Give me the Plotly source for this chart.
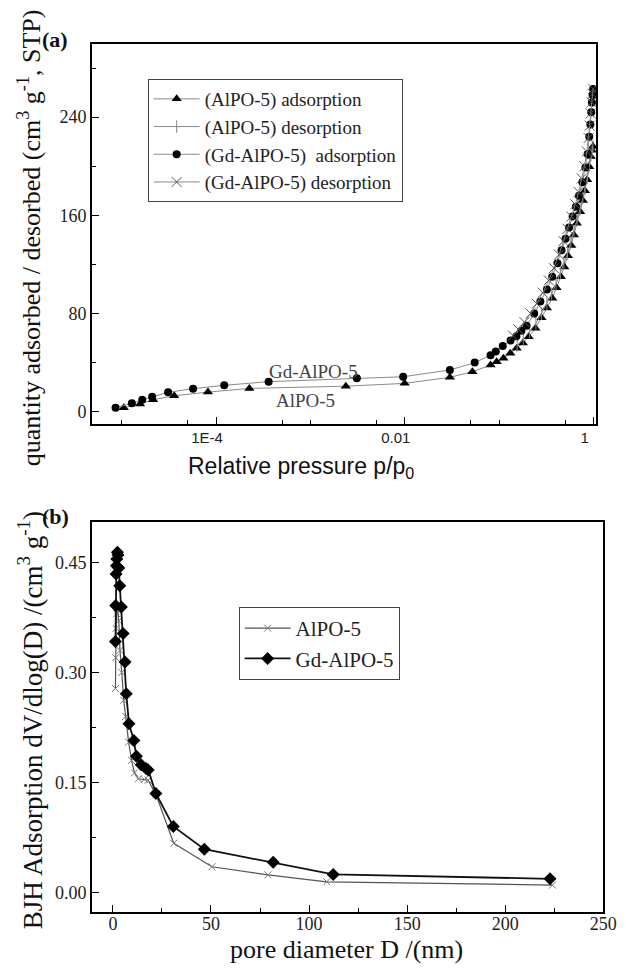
import plotly.graph_objects as go

# ---------------- data: panel (a) nitrogen isotherms ----------------
alpo_ads_p = [1.05e-5, 1.56e-5, 2.15e-5, 3.6e-5, 8.2e-5, 2.25e-4, 2.37e-3, 9.95e-3,
              0.030, 0.052, 0.081, 0.094, 0.111, 0.131, 0.153, 0.178, 0.205, 0.242,
              0.28, 0.32, 0.365, 0.405, 0.45, 0.49, 0.535, 0.58, 0.62, 0.665, 0.72,
              0.77, 0.81, 0.855, 0.90, 0.935, 0.96, 0.985]
alpo_ads_v = [3.3, 6.3, 9.8, 13.0, 16.0, 19.0, 20.8, 23.1,
              28.0, 32.6, 38.0, 40.8, 43.5, 47.6, 51.7, 56.0, 61.0, 68.0,
              76.5, 84.5, 92.5, 101.0, 110.0, 118.0, 127.0, 135.5, 144.0, 153.5, 163.0,
              172.0, 180.0, 189.0, 199.5, 208.0, 213.0, 216.0]

alpo_des_p = [0.985, 0.965, 0.94, 0.905, 0.86, 0.815, 0.77, 0.72, 0.67, 0.62, 0.575,
              0.53, 0.485, 0.445, 0.40, 0.36, 0.32, 0.28, 0.245, 0.21, 0.18, 0.155]
alpo_des_v = [216, 213, 209, 201, 191, 182, 174, 165, 156, 147, 138,
              129, 121, 113, 104, 96, 88, 80, 72, 65, 59, 54]

gd_ads_p = [8.6e-6, 1.28e-5, 1.65e-5, 2.1e-5, 3.1e-5, 5.7e-5, 1.22e-4, 3.6e-4, 3.1e-3,
            9.6e-3, 0.030, 0.055, 0.081, 0.092, 0.109, 0.132, 0.152, 0.172, 0.195,
            0.235, 0.273, 0.32, 0.365, 0.414, 0.458, 0.505, 0.55, 0.60, 0.65, 0.70,
            0.76, 0.82, 0.865, 0.90, 0.925, 0.945, 0.96, 0.975, 0.99]
gd_ads_v = [3.3, 6.8, 9.8, 12.2, 15.8, 18.8, 21.5, 24.5, 27.2,
            28.5, 34.0, 40.0, 46.0, 49.0, 53.5, 58.0, 61.5, 66.0, 70.0,
            80.0, 89.7, 99.5, 110.0, 121.0, 131.5, 141.0, 150.0, 159.0, 167.0, 176.0,
            187.0, 199.0, 210.0, 224.0, 234.0, 244.0, 252.0, 258.0, 263.0]

gd_des_p = [0.99, 0.975, 0.955, 0.935, 0.91, 0.885, 0.85, 0.80, 0.75, 0.695, 0.64,
            0.585, 0.53, 0.48, 0.43, 0.38, 0.335, 0.29, 0.25, 0.215, 0.185, 0.16, 0.14]
gd_des_v = [263, 259, 252, 243, 233, 223, 212, 200, 190, 179, 169,
            159, 149, 139, 128, 117, 107, 97, 88, 80, 73, 67, 62]

# ---------------- data: panel (b) BJH pore size distribution ----------------
alpo_D = [1.3, 1.4, 1.6, 2.0, 2.5, 3.0, 3.6, 4.5, 5.5, 6.5, 8.0, 9.5, 11.0, 13.0,
          16.0, 18.0, 22.0, 31.0, 50.5, 79.0, 109.0, 224.0]
alpo_V = [0.278, 0.32, 0.36, 0.38, 0.385, 0.37, 0.33, 0.30, 0.262, 0.24, 0.205, 0.18,
          0.163, 0.155, 0.154, 0.153, 0.133, 0.067, 0.035, 0.024, 0.0145, 0.010]

gd_D = [1.3, 1.4, 1.6, 1.8, 2.0, 2.3, 2.6, 3.0, 3.5, 4.3, 5.2, 6.2, 6.8, 8.2, 10.7,
        12.0, 14.4, 16.9, 18.0, 21.9, 30.8, 46.6, 81.7, 112.3, 222.8]
gd_V = [0.342, 0.391, 0.434, 0.4455, 0.4546, 0.4636, 0.46, 0.4423, 0.418, 0.389, 0.353,
        0.314, 0.271, 0.230, 0.207, 0.1855, 0.174, 0.169, 0.167, 0.135, 0.090, 0.059,
        0.041, 0.0245, 0.0186]

# tick definitions
a_major_vals = [1e-4, 1e-2, 1]
a_major_text = ["1E-4", "0.01", "1"]
a_minor_vals = [1e-5, 5e-5, 5e-4, 1e-3, 5e-3, 5e-2, 0.1, 0.5]

SERIF = "Liberation Serif"
SANS = "Liberation Sans"
W, H = 632, 969

fig = go.Figure()
grey = "#8a8a8a"

# panel (a) traces
fig.add_trace(go.Scatter(x=alpo_ads_p, y=alpo_ads_v, mode="lines+markers",
                         name="(AlPO-5) adsorption", legend="legend",
                         line=dict(color=grey, width=1),
                         marker=dict(symbol="triangle-up", size=9, color="black"),
                         xaxis="x", yaxis="y"))
fig.add_trace(go.Scatter(x=alpo_des_p, y=alpo_des_v, mode="lines+markers",
                         name="(AlPO-5) desorption", legend="legend",
                         line=dict(color=grey, width=1),
                         marker=dict(symbol="line-ns", size=9, color=grey,
                                     line=dict(color=grey, width=1)),
                         xaxis="x", yaxis="y"))
fig.add_trace(go.Scatter(x=gd_ads_p, y=gd_ads_v, mode="lines+markers",
                         name="(Gd-AlPO-5)  adsorption", legend="legend",
                         line=dict(color=grey, width=1),
                         marker=dict(symbol="circle", size=8, color="black"),
                         xaxis="x", yaxis="y"))
fig.add_trace(go.Scatter(x=gd_des_p, y=gd_des_v, mode="lines+markers",
                         name="(Gd-AlPO-5) desorption", legend="legend",
                         line=dict(color=grey, width=1),
                         marker=dict(symbol="x-thin", size=10, color="#555",
                                     line=dict(color="#555", width=1)),
                         xaxis="x", yaxis="y"))

# panel (b) traces
fig.add_trace(go.Scatter(x=alpo_D, y=alpo_V, mode="lines+markers", name="AlPO-5",
                         legend="legend2",
                         line=dict(color="#555", width=1.2),
                         marker=dict(symbol="x-thin", size=7, color="#777",
                                     line=dict(color="#777", width=1)),
                         xaxis="x2", yaxis="y2"))
fig.add_trace(go.Scatter(x=gd_D, y=gd_V, mode="lines+markers", name="Gd-AlPO-5",
                         legend="legend2",
                         line=dict(color="#111", width=1.8),
                         marker=dict(symbol="diamond", size=10, color="black"),
                         xaxis="x2", yaxis="y2"))

def px_x(p):
    return p / W

def px_y(p):
    return 1 - p / H

axis_common = dict(showline=True, linecolor="black", linewidth=1.8, mirror=True,
                   ticks="inside", tickcolor="black", tickwidth=1.2, ticklen=7,
                   showgrid=False, zeroline=False)

fig.update_layout(
    width=W, height=H,
    margin=dict(l=0, r=0, t=0, b=0),
    paper_bgcolor="white", plot_bgcolor="white",
    showlegend=True,
    xaxis=dict(**axis_common, type="log", domain=[px_x(94), px_x(610)],
               range=[-5.316, 0.031], anchor="y",
               tickmode="array", tickvals=a_major_vals, ticktext=a_major_text,
               tickfont=dict(family=SANS, size=15, color="#222"),
               ticklabelshift=-9,
               minor=dict(tickmode="array", tickvals=a_minor_vals, ticks="inside",
                          ticklen=4, tickcolor="black", tickwidth=1)),
    yaxis=dict(**axis_common, domain=[px_y(423.5), px_y(43.5)], range=[-9.6, 300],
               anchor="x", tickmode="linear", tick0=0, dtick=80,
               tickfont=dict(family=SERIF, size=18, color="#222"),
               minor=dict(tickmode="linear", tick0=0, dtick=40, ticks="inside",
                          ticklen=4, tickcolor="black", tickwidth=1)),
    xaxis2=dict(**axis_common, domain=[px_x(94), px_x(617)], range=[-10.7, 250],
                anchor="y2", tickmode="linear", tick0=0, dtick=50,
                tickfont=dict(family=SERIF, size=18, color="#222"),
                ticklabelstandoff=-5,
                minor=dict(tickmode="linear", tick0=0, dtick=25, ticks="inside",
                           ticklen=4, tickcolor="black", tickwidth=1)),
    yaxis2=dict(**axis_common, domain=[px_y(911.5), px_y(522)], range=[-0.026, 0.505],
                anchor="x2", tickmode="linear", tick0=0, dtick=0.15, tickformat=".2f",
                tickfont=dict(family=SERIF, size=18, color="#222"),
                minor=dict(tickmode="linear", tick0=0, dtick=0.075, ticks="inside",
                           ticklen=4, tickcolor="black", tickwidth=1)),
    legend=dict(x=px_x(151), y=px_y(79), xanchor="left", yanchor="top",
                bgcolor="white", bordercolor="#444", borderwidth=1,
                font=dict(family=SERIF, size=19, color="#222"),
                itemwidth=46, tracegroupgap=0),
    legend2=dict(x=px_x(244), y=px_y(607), xanchor="left", yanchor="top",
                 bgcolor="white", bordercolor="#444", borderwidth=1,
                 font=dict(family=SERIF, size=21, color="#222"),
                 itemwidth=46, tracegroupgap=0),
)

annotations = [
    dict(text="<b>(a)</b>", x=px_x(56), y=px_y(40), font=dict(family=SERIF, size=22, color="#111")),
    dict(text="<b>(b)</b>", x=px_x(57), y=px_y(516), font=dict(family=SERIF, size=22, color="#111")),
    dict(text="Gd-AlPO-5", x=px_x(321), y=px_y(371), font=dict(family=SERIF, size=19, color="#444")),
    dict(text="AlPO-5", x=px_x(312), y=px_y(401), font=dict(family=SERIF, size=19, color="#444")),
    dict(text="quantity adsorbed / desorbed (cm<sup>3</sup> g<sup>-1</sup>, STP)",
         x=px_x(30), y=px_y(238), textangle=-90,
         font=dict(family=SERIF, size=26, color="#111")),
    dict(text="Relative pressure p/p<sub>0</sub>", x=px_x(308), y=px_y(467),
         font=dict(family=SANS, size=23, color="#111")),
    dict(text="BJH Adsorption dV/dlog(D) /(cm<sup>3</sup> g<sup>-1</sup>)",
         x=px_x(31), y=px_y(720), textangle=-90,
         font=dict(family=SERIF, size=27, color="#111")),
    dict(text="pore diameter D /(nm)", x=px_x(354), y=px_y(949),
         font=dict(family=SERIF, size=26, color="#111")),
]
for a in annotations:
    a.update(xref="paper", yref="paper", showarrow=False, xanchor="center", yanchor="middle")
fig.update_layout(annotations=annotations)

# remove the browser's default 8px page margin so the figure fills the window exactly
fig.write_html("out.html", config={"displayModeBar": False},
               post_script="document.body.style.margin='0';")
